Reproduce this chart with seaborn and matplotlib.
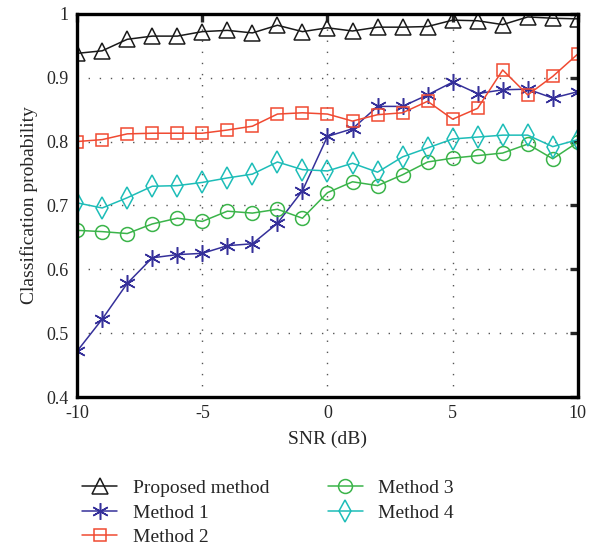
import pandas as pd
import matplotlib
matplotlib.use("Agg")
import matplotlib.pyplot as plt
import seaborn as sns

snr = list(range(-10, 11))

proposed = [0.938, 0.942, 0.960, 0.965, 0.965, 0.972, 0.974, 0.970, 0.982, 0.972, 0.978,
            0.973, 0.979, 0.979, 0.980, 0.990, 0.989, 0.983, 0.995, 0.993, 0.992]
method1 = [0.472, 0.522, 0.578, 0.618, 0.623, 0.625, 0.637, 0.640, 0.672, 0.723, 0.808,
           0.820, 0.855, 0.855, 0.873, 0.893, 0.875, 0.881, 0.882, 0.868, 0.878]
method2 = [0.800, 0.803, 0.812, 0.813, 0.813, 0.813, 0.818, 0.824, 0.843, 0.845, 0.843,
           0.832, 0.842, 0.845, 0.863, 0.835, 0.852, 0.912, 0.873, 0.902, 0.937]
method3 = [0.661, 0.659, 0.656, 0.671, 0.680, 0.675, 0.691, 0.688, 0.694, 0.680, 0.720,
           0.737, 0.731, 0.748, 0.768, 0.774, 0.778, 0.782, 0.796, 0.773, 0.799]
method4 = [0.704, 0.696, 0.712, 0.730, 0.731, 0.736, 0.743, 0.749, 0.768, 0.756, 0.754,
           0.766, 0.752, 0.776, 0.790, 0.804, 0.807, 0.810, 0.810, 0.792, 0.803]

names = ["Proposed method", "Method 1", "Method 2", "Method 3", "Method 4"]
values = [proposed, method1, method2, method3, method4]

df = pd.DataFrame({"SNR": snr * 5,
                   "prob": sum(values, []),
                   "method": [n for n in names for _ in snr]})

# colour, marker, size
styles = {
    "Proposed method": ("#1a1a1a", "^", 11),
    "Method 1": ("#35309a", (6, 2, 0), 12),
    "Method 2": ("#f04a32", "s", 9),
    "Method 3": ("#3bb44a", "o", 10),
    "Method 4": ("#1dbdb8", "d", 11),
}

sns.set_style("white")
plt.rcParams["font.family"] = ["Liberation Serif", "DejaVu Serif"]
plt.rcParams["axes.unicode_minus"] = False

fig = plt.figure(figsize=(5.89, 5.5), dpi=100)
ax = fig.add_axes([0.131, 0.278, 0.85, 0.697])

for name in names:
    color, marker, ms = styles[name]
    sns.lineplot(data=df[df["method"] == name], x="SNR", y="prob", ax=ax,
                 color=color, marker=marker, markersize=ms, markerfacecolor="none",
                 markeredgecolor=color, markeredgewidth=1.1, linewidth=1.1,
                 label=name)

ax.set_xlim(-10, 10)
ax.set_ylim(0.4, 1.0)
ax.set_xticks([-10, -5, 0, 5, 10])
ax.set_yticks([0.4, 0.5, 0.6, 0.7, 0.8, 0.9, 1.0])
ax.set_yticklabels(["0.4", "0.5", "0.6", "0.7", "0.8", "0.9", "1"])
ax.grid(True, linestyle=(0, (1, 7)), color="#555555", linewidth=1.0)
for s in ax.spines.values():
    s.set_linewidth(2.4)
    s.set_color("black")
ax.tick_params(direction="in", length=6, width=2.4, labelsize=13, pad=6,
               top=True, right=True)
ax.set_xlabel("SNR (dB)", fontsize=14, labelpad=6)
ax.set_ylabel("Classification probability", fontsize=14, labelpad=6)

handles, labels = ax.get_legend_handles_labels()
ax.legend_.remove()
fig.legend(handles, labels,
           loc="upper left", bbox_to_anchor=(0.11, 0.16), ncol=2, frameon=False,
           fontsize=14, handlelength=1.8, columnspacing=3.0, labelspacing=0.35,
           handletextpad=0.8)

fig.savefig("out.png", dpi=100)
